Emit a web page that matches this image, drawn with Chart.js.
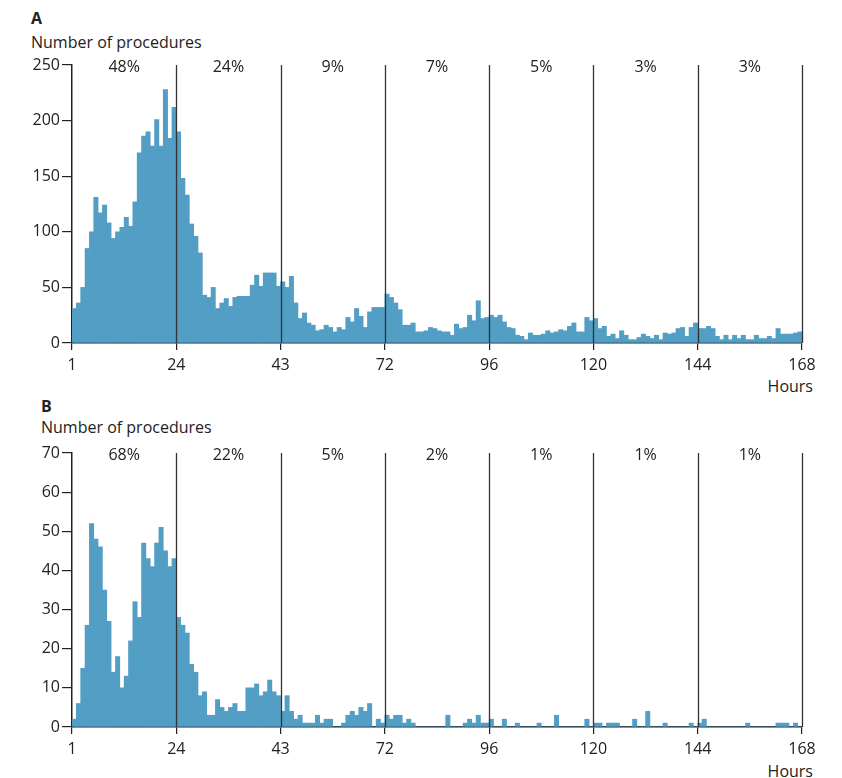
<!DOCTYPE html>
<html lang="en">
<head>
<meta charset="UTF-8">
<title>Procedures by hour</title>
<script src="https://cdn.jsdelivr.net/npm/chart.js@4.4.1/dist/chart.umd.min.js"></script>
<style>
  body { margin: 0; background: #fff; font-family: 'Open Sans', sans-serif; color: #222; }
  #wrap { position: relative; width: 842px; height: 778px; }
  .txt { position: absolute; font-size: 16px; line-height: 22px; white-space: nowrap; }
  canvas { position: absolute; left: 0; }
</style>
</head>
<body>
<div id="wrap">
  <div class="txt" style="left:31px; top:7px; font-weight:bold;">A</div>
  <div class="txt" style="left:31px; top:31px;">Number of procedures</div>
  <div class="txt" style="right:29px; top:375px;">Hours</div>
  <div class="txt" style="left:41px; top:395px; font-weight:bold;">B</div>
  <div class="txt" style="left:41px; top:416px;">Number of procedures</div>
  <div class="txt" style="right:29px; top:760px;">Hours</div>
  <canvas id="chartA" width="842" height="390" style="top:0"></canvas>
  <canvas id="chartB" width="842" height="388" style="top:390px"></canvas>
</div>
<script>
// x axis ticks (hours) and the labels printed under them
const tickHours = [0, 24, 48, 72, 96, 120, 144, 168];
const tickLabels = ['1', '24', '43', '72', '96', '120', '144', '168'];

// share of procedures in each 24 h block
const pctA = ['48%', '24%', '9%', '7%', '5%', '3%', '3%'];
const pctB = ['68%', '22%', '5%', '2%', '1%', '1%', '1%'];

// number of procedures per hour, hour 1 .. 168
const countsA = [
  31, 36, 50, 85, 100, 131, 117, 124, 108, 94, 100, 104, 113, 105, 127, 171, 186, 190, 177, 201, 177, 228, 184, 212,
  190, 148, 133, 107, 96, 81, 43, 41, 50, 31, 36, 40, 33, 41, 42, 42, 42, 52, 61, 51, 63, 63, 63, 51,
  55, 50, 60, 36, 22, 27, 18, 16, 11, 12, 16, 14, 10, 14, 12, 23, 19, 31, 24, 14, 28, 32, 32, 32,
  44, 41, 36, 30, 16, 16, 18, 10, 10, 11, 14, 13, 11, 10, 10, 7, 17, 13, 14, 25, 20, 38, 22, 23,
  25, 23, 25, 19, 14, 13, 7, 6, 3, 9, 7, 7, 8, 11, 9, 10, 12, 11, 15, 18, 10, 10, 23, 20,
  22, 13, 15, 6, 8, 4, 11, 7, 3, 3, 5, 8, 6, 4, 7, 3, 9, 8, 9, 13, 14, 6, 14, 18,
  13, 13, 15, 13, 6, 3, 7, 3, 7, 4, 7, 3, 3, 7, 4, 4, 6, 4, 13, 8, 8, 8, 9, 10
];
const countsB = [
  2, 6, 15, 26, 52, 48, 46, 35, 27, 14, 18, 10, 13, 22, 32, 28, 47, 43, 41, 47, 51, 45, 41, 43,
  28, 26, 24, 16, 14, 8, 9, 3, 3, 7, 5, 4, 5, 6, 4, 4, 10, 10, 11, 8, 9, 12, 9, 8,
  4, 8, 4, 2, 3, 1, 1, 1, 3, 1, 2, 2, 0, 0, 1, 3, 4, 3, 5, 4, 6, 0, 2, 1,
  3, 2, 3, 3, 1, 2, 1, 0, 0, 0, 0, 0, 0, 0, 3, 0, 0, 0, 1, 2, 1, 3, 1, 1,
  2, 0, 0, 2, 0, 0, 1, 0, 0, 0, 0, 1, 0, 0, 0, 3, 0, 0, 0, 0, 0, 0, 2, 0,
  1, 1, 0, 1, 1, 1, 0, 0, 0, 2, 0, 0, 4, 0, 0, 0, 1, 0, 0, 0, 0, 0, 1, 0,
  1, 2, 0, 0, 0, 0, 0, 0, 0, 0, 0, 1, 0, 0, 0, 0, 0, 0, 1, 1, 1, 0, 1, 0
];

const barColor = '#529ec4';
const inkColor = '#222';

// divider lines every 24 h and the block percentages on top
const blockPlugin = {
  id: 'blocks',
  afterDatasetsDraw(chart, args, opts) {
    const ctx = chart.ctx;
    const xs = chart.scales.x;
    const area = chart.chartArea;
    ctx.save();
    ctx.strokeStyle = '#333';
    ctx.lineWidth = 1.3;
    for (let h = 24; h <= 168; h += 24) {
      const x = Math.round(xs.getPixelForValue(h)) + 0.5;
      ctx.beginPath();
      ctx.moveTo(x, area.top);
      ctx.lineTo(x, area.bottom);
      ctx.stroke();
    }
    ctx.fillStyle = inkColor;
    ctx.font = '16px "Open Sans"';
    ctx.textAlign = 'center';
    ctx.textBaseline = 'middle';
    opts.pct.forEach((p, i) => {
      ctx.fillText(p, xs.getPixelForValue(12 + i * 24), area.top + 2);
    });
    ctx.restore();
  }
};

function makeChart(id, counts, pct, yMax, yStep, padTop, xHeight) {
  new Chart(document.getElementById(id), {
    type: 'bar',
    data: {
      datasets: [{
        data: counts.map((v, i) => ({ x: i + 0.5, y: v })),
        backgroundColor: barColor,
        borderWidth: 0,
        barPercentage: 1,
        categoryPercentage: 1
      }]
    },
    options: {
      responsive: false,
      animation: false,
      layout: { padding: { top: padTop, right: 40, left: 0, bottom: 0 } },
      plugins: {
        legend: { display: false },
        tooltip: { enabled: false },
        blocks: { pct: pct }
      },
      scales: {
        x: {
          type: 'linear',
          min: 0,
          max: 168,
          offset: false,
          afterBuildTicks: (scale) => { scale.ticks = tickHours.map(v => ({ value: v })); },
          afterFit: (scale) => { scale.height = xHeight; },
          grid: { offset: false, drawOnChartArea: false, tickLength: 7, color: inkColor, lineWidth: 1.2 },
          border: { color: inkColor, width: 1.5 },
          ticks: {
            color: inkColor,
            font: { family: 'Open Sans', size: 16 },
            padding: 6,
            maxRotation: 0,
            callback: (v) => tickLabels[tickHours.indexOf(v)]
          }
        },
        y: {
          min: 0,
          max: yMax,
          afterFit: (scale) => { scale.width = 72; },
          grid: { drawOnChartArea: false, tickLength: 10, color: inkColor, lineWidth: 1.2 },
          border: { color: inkColor, width: 1.5 },
          ticks: {
            stepSize: yStep,
            color: inkColor,
            font: { family: 'Open Sans', size: 16 },
            padding: 2
          }
        }
      }
    },
    plugins: [blockPlugin]
  });
}

makeChart('chartA', countsA, pctA, 250, 50, 65, 47);
makeChart('chartB', countsB, pctB, 70, 10, 63, 51);
</script>
</body>
</html>
